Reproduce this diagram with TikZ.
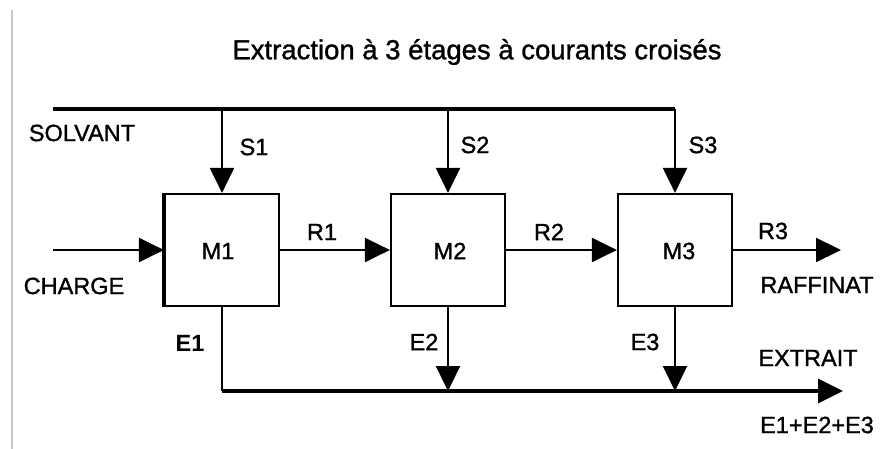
\documentclass[tikz,border=0pt]{standalone}
\usepackage{fontspec}
\setmainfont{Liberation Sans}
\newfontfamily\heavyfont[FakeBold=1.2]{Liberation Sans}
\usetikzlibrary{arrows.meta}
\begin{document}
\begin{tikzpicture}[x=1pt,y=-1pt,
  box/.style={draw,line width=2.2pt,minimum width=114pt,minimum height=112pt,inner sep=0pt},
  lbl/.style={font=\heavyfont\fontsize{23.5}{25}\selectfont,inner sep=0pt},
  flow/.style={line width=2.2pt,-{Triangle[length=25pt,width=24pt]}},
  main/.style={line width=3.2pt},
  thin/.style={line width=2.2pt}]
\useasboundingbox (0,0) rectangle (886,449);
\draw[line width=1.5pt,black!22] (12,10) -- (12,449);
\node[font=\heavyfont\fontsize{27.5}{29}\selectfont,inner sep=0pt] (title) at (477,52) {Extraction à 3 étages à courants croisés};
% boxes
\node[box] (M1) at (222,250) {};
\node[box] (M2) at (448,250) {};
\node[box] (M3) at (675,250) {};
\draw[line width=4.5pt] (M1.north west) -- (M1.south west);
\node[lbl] (m1l) at (218,251) {M1};
\node[lbl] (m2l) at (450,251) {M2};
\node[lbl] (m3l) at (679,251) {M3};
% solvent
\coordinate (sv) at (53,109);
\coordinate (s1) at (M1.north |- sv);
\coordinate (s2) at (M2.north |- sv);
\coordinate (s3) at (M3.north |- sv);
\draw[main] (sv) -- (s3);
\draw[flow] (s1) -- (M1.north);
\draw[flow] (s2) -- (M2.north);
\draw[flow] (s3) -- (M3.north);
\node[lbl] (solvant) at (82,133) {SOLVANT};
\node[lbl] (S1) at (254,147) {S1};
\node[lbl] (S2) at (475,145) {S2};
\node[lbl] (S3) at (703,145) {S3};
% raffinate line
\coordinate (ch) at (53,250);
\coordinate (raf) at (841,250);
\draw[flow] (ch) -- (M1.west);
\draw[flow] (M1.east) -- (M2.west);
\draw[flow] (M2.east) -- (M3.west);
\draw[flow] (M3.east) -- (raf);
\node[lbl] (charge) at (74,286) {CHARGE};
\node[lbl] (R1) at (322,232) {R1};
\node[lbl] (R2) at (549,232) {R2};
\node[lbl] (R3) at (773,231) {R3};
\node[lbl] (raffinat) at (817,285) {RAFFINAT};
% extract line
\coordinate (ex) at (M1.south |- 0,391);
\coordinate (e2) at (M2.south |- 0,391);
\coordinate (e3) at (M3.south |- 0,391);
\coordinate (ext) at (843,391);
\draw[thin] (M1.south) -- (ex);
\draw[main,-{Triangle[length=25pt,width=24pt]}] (ex) -- (ext);
\draw[flow] (M2.south) -- (e2);
\draw[flow] (M3.south) -- (e3);
\node[lbl,font=\fontsize{23.5}{25}\selectfont\bfseries] (E1) at (190,343) {E1};
\node[lbl] (E2) at (424,342) {E2};
\node[lbl] (E3) at (645,342) {E3};
\node[lbl] (extrait) at (808,358) {EXTRAIT};
\node[lbl] (sum) at (817,425) {E1+E2+E3};
\end{tikzpicture}
\end{document}
